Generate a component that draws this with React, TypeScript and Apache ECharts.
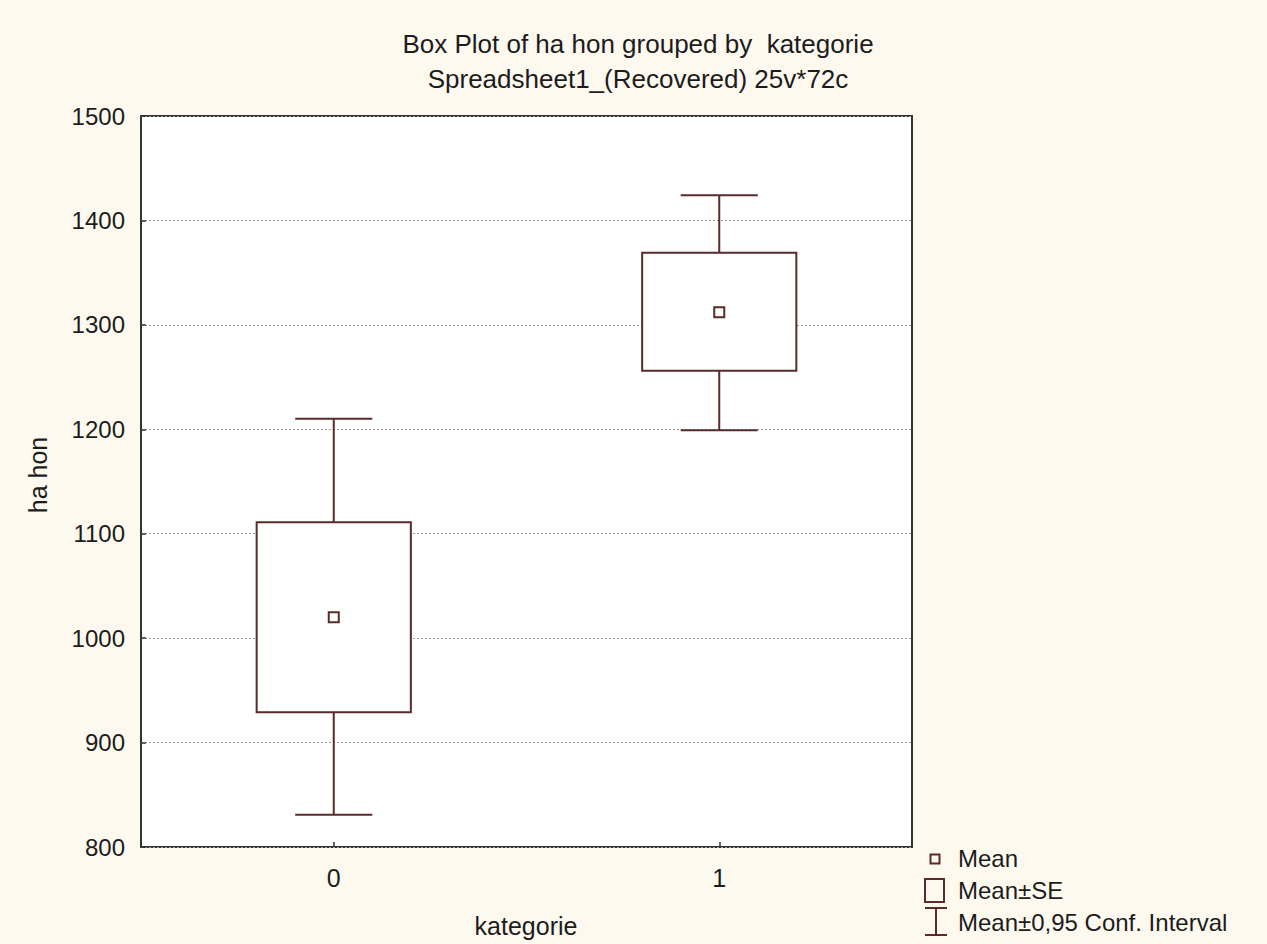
import React, { useEffect, useRef } from "react";
import * as echarts from "echarts";

const categories = ["0", "1"];
const means = [1020, 1312];
const seLow = [929, 1256];
const seHigh = [1111, 1369];
const ciLow = [831, 1199];
const ciHigh = [1210, 1424];
const yMin = 800;
const yMax = 1500;
const yInterval = 100;

const titleLine1 = "Box Plot of ha hon grouped by  kategorie";
const titleLine2 = "Spreadsheet1_(Recovered) 25v*72c";
const xName = "kategorie";
const yName = "ha hon";
const legendLabels = ["Mean", "Mean\u00b1SE", "Mean\u00b10,95 Conf. Interval"];

const BG = "#fdf9ef";
const MARK = "#5a2b2b";
const FONT = "'Liberation Sans', Arial, sans-serif";
const TXT = "#1c1c1c";

export default function App() {
  const ref = useRef<HTMLDivElement>(null);
  useEffect(() => {
    if (!ref.current) return;
    const chart = echarts.init(ref.current, undefined, { renderer: "svg" });
    const data = categories.map((_, i) => [i, ciLow[i], seLow[i], means[i], seHigh[i], ciHigh[i]]);
    const option: any = {
      animation: false,
      backgroundColor: BG,
      grid: {
        left: 141,
        top: 116,
        width: 771,
        height: 731,
        show: true,
        backgroundColor: "#ffffff",
        borderColor: "#333",
        borderWidth: 2,
      },
      xAxis: {
        type: "category",
        data: categories,
        boundaryGap: true,
        axisLine: { show: false },
        axisTick: { show: true, inside: true, alignWithLabel: true, length: 5, lineStyle: { color: "#333", width: 1.5 } },
        axisLabel: { fontFamily: FONT, fontSize: 25, color: TXT, margin: 31, verticalAlign: "middle" },
        splitLine: { show: false },
      },
      yAxis: {
        type: "value",
        min: yMin,
        max: yMax,
        interval: yInterval,
        axisLine: { show: false },
        axisTick: { show: true, inside: true, length: 5, lineStyle: { color: "#333", width: 1.5 } },
        axisLabel: {
          fontFamily: FONT,
          fontSize: 24,
          color: TXT,
          margin: 16,
          formatter: (v: number) => String(v),
        },
        splitLine: { show: true, lineStyle: { color: "#9a9a9a", type: [2, 2], width: 1 } },
      },
      series: [
        {
          type: "custom",
          data,
          encode: { x: 0, y: [1, 2, 3, 4, 5] },
          renderItem: (params: any, api: any) => {
            const xi = api.value(0);
            const band = api.size([1, 0])[0];
            const boxW = band * 0.4;
            const capW = band * 0.2;
            const pCiL = api.coord([xi, api.value(1)]);
            const pSeL = api.coord([xi, api.value(2)]);
            const pM = api.coord([xi, api.value(3)]);
            const pSeH = api.coord([xi, api.value(4)]);
            const pCiH = api.coord([xi, api.value(5)]);
            const cx = pM[0];
            const ls = { stroke: MARK, lineWidth: 2 };
            return {
              type: "group",
              children: [
                { type: "line", shape: { x1: cx, y1: pCiH[1], x2: cx, y2: pSeH[1] }, style: ls },
                { type: "line", shape: { x1: cx, y1: pSeL[1], x2: cx, y2: pCiL[1] }, style: ls },
                { type: "line", shape: { x1: cx - capW / 2, y1: pCiH[1], x2: cx + capW / 2, y2: pCiH[1] }, style: ls },
                { type: "line", shape: { x1: cx - capW / 2, y1: pCiL[1], x2: cx + capW / 2, y2: pCiL[1] }, style: ls },
                {
                  type: "rect",
                  shape: { x: cx - boxW / 2, y: pSeH[1], width: boxW, height: pSeL[1] - pSeH[1] },
                  style: { fill: "#ffffff", stroke: MARK, lineWidth: 2 },
                },
                {
                  type: "rect",
                  shape: { x: cx - 5, y: pM[1] - 5, width: 10, height: 10 },
                  style: { fill: "#ffffff", stroke: MARK, lineWidth: 2 },
                },
              ],
            };
          },
        },
      ],
      graphic: [
        {
          type: "text",
          x: 638,
          y: 43.5,
          style: { text: titleLine1, font: `26px ${FONT}`, fill: TXT, textAlign: "center", textVerticalAlign: "middle" },
        },
        {
          type: "text",
          x: 638,
          y: 78.5,
          style: { text: titleLine2, font: `26px ${FONT}`, fill: TXT, textAlign: "center", textVerticalAlign: "middle" },
        },
        {
          type: "text",
          x: 526,
          y: 926,
          style: { text: xName, font: `25px ${FONT}`, fill: TXT, textAlign: "center", textVerticalAlign: "middle" },
        },
        {
          type: "text",
          x: 38,
          y: 475,
          rotation: Math.PI / 2,
          style: { text: yName, font: `25px ${FONT}`, fill: TXT, textAlign: "center", textVerticalAlign: "middle" },
        },
        {
          type: "rect",
          shape: { x: 930.5, y: 854.5, width: 9, height: 9 },
          style: { fill: "none", stroke: MARK, lineWidth: 2 },
        },
        {
          type: "rect",
          shape: { x: 925, y: 879, width: 19, height: 23 },
          style: { fill: "none", stroke: MARK, lineWidth: 2 },
        },
        { type: "line", shape: { x1: 936, y1: 908, x2: 936, y2: 935 }, style: { stroke: MARK, lineWidth: 2 } },
        { type: "line", shape: { x1: 925, y1: 908, x2: 947, y2: 908 }, style: { stroke: MARK, lineWidth: 2 } },
        { type: "line", shape: { x1: 925, y1: 935, x2: 947, y2: 935 }, style: { stroke: MARK, lineWidth: 2 } },
        {
          type: "text",
          x: 958,
          y: 858,
          style: { text: legendLabels[0], font: `24px ${FONT}`, fill: TXT, textAlign: "left", textVerticalAlign: "middle" },
        },
        {
          type: "text",
          x: 958,
          y: 890,
          style: { text: legendLabels[1], font: `24px ${FONT}`, fill: TXT, textAlign: "left", textVerticalAlign: "middle" },
        },
        {
          type: "text",
          x: 958,
          y: 922,
          style: { text: legendLabels[2], font: `24px ${FONT}`, fill: TXT, textAlign: "left", textVerticalAlign: "middle" },
        },
      ],
    };
    chart.setOption(option);
    return () => chart.dispose();
  }, []);
  return (
    <div
      ref={ref}
      style={{ position: "fixed", left: 0, top: 0, width: 1267, height: 944, background: BG }}
    />
  );
}
